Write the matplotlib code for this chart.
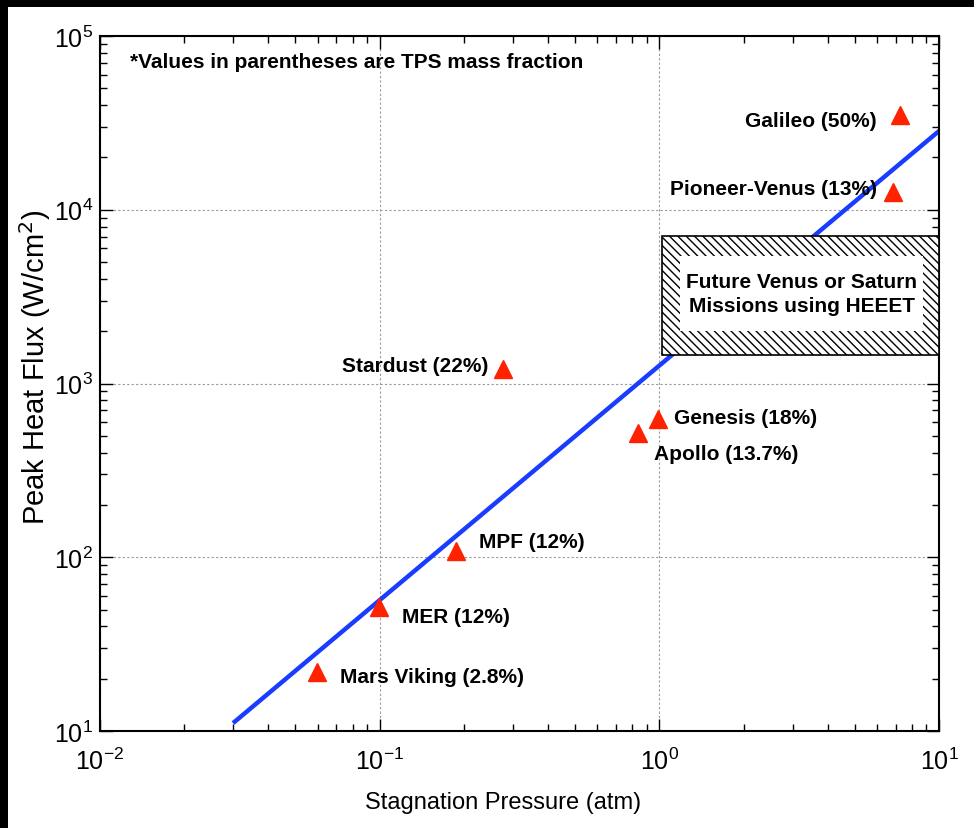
import matplotlib

matplotlib.use("Agg")
import matplotlib.pyplot as plt
from matplotlib.patches import Rectangle

plt.rcParams["font.family"] = ["Liberation Sans", "DejaVu Sans"]

# mission data (stagnation pressure in atm, peak heat flux in W/cm^2)
missions = ["Galileo", "Pioneer-Venus", "Stardust", "Genesis", "Apollo",
            "MPF", "MER", "Mars Viking"]
tps_fraction = ["50%", "13%", "22%", "18%", "13.7%", "12%", "12%", "2.8%"]
pressure = [7.26, 6.84, 0.276, 0.99, 0.84, 0.1875, 0.0995, 0.0597]
heat_flux = [35100, 12650, 1212, 625, 519, 108.6, 51.7, 21.9]

# trend line end points
trend_p = [0.0299, 10.0]
trend_q = [11.1, 28400]

# HEEET region
heeet_p = [1.02, 10.0]
heeet_q = [1460, 7060]
heeet_inner_p = [1.185, 8.77]
heeet_inner_q = [2005, 5420]
heeet_text = "Future Venus or Saturn\nMissions using HEEET"

# label offsets in points and alignment
label_offsets = {
    "Galileo": (-16.6, -4.3, "right"),
    "Pioneer-Venus": (-11.5, 2.2, "right"),
    "Stardust": (-10.8, 2.2, "right"),
    "Genesis": (11.5, 0.7, "left"),
    "Apollo": (11.5, -15.0, "left"),
    "MPF": (16.6, 6.5, "left"),
    "MER": (16.6, -6.5, "left"),
    "Mars Viking": (16.6, -3.6, "left"),
}

W, H = 974, 829
fig = plt.figure(figsize=(W / 100, H / 100), dpi=100, facecolor="black")
fig.add_artist(Rectangle((8 / W, 0), 1, (H - 8) / H, transform=fig.transFigure,
                         facecolor="white", edgecolor="none", zorder=0))
ax = fig.add_axes([100 / W, (H - 732) / H, 839 / W, 695 / H])

ax.set_xscale("log")
ax.set_yscale("log")
ax.set_xlim(1e-2, 1e1)
ax.set_ylim(1e1, 1e5)

ax.grid(True, which="major", linestyle=(0, (2, 2)), color="#9a9a9a", linewidth=0.8)
ax.set_axisbelow(True)

ax.plot(trend_p, trend_q, color="#1a3cff", linewidth=3.2, zorder=2, solid_capstyle="butt")

plt.rcParams["hatch.linewidth"] = 1.0
ax.add_patch(Rectangle((heeet_p[0], heeet_q[0]), heeet_p[1] - heeet_p[0], heeet_q[1] - heeet_q[0],
                       facecolor="white", edgecolor="black", hatch="\\\\\\\\", linewidth=1.2, zorder=3))
ax.add_patch(Rectangle((heeet_inner_p[0], heeet_inner_q[0]), heeet_inner_p[1] - heeet_inner_p[0],
                       heeet_inner_q[1] - heeet_inner_q[0], facecolor="white", edgecolor="none", zorder=4))
ax.text((heeet_inner_p[0] * heeet_inner_p[1]) ** 0.5, (heeet_inner_q[0] * heeet_inner_q[1]) ** 0.5,
        heeet_text, ha="center", va="center", fontsize=15, fontweight="bold", linespacing=1.3, zorder=5)

ax.plot(pressure, heat_flux, linestyle="none", marker="^", markersize=13,
        color="#ff2200", markeredgecolor="#ff2200", zorder=6)

for name, frac, p, q in zip(missions, tps_fraction, pressure, heat_flux):
    dx, dy, ha = label_offsets[name]
    ax.annotate(f"{name} ({frac})", (p, q), xytext=(dx, dy), textcoords="offset points",
                ha=ha, va="center", fontsize=15, fontweight="bold", zorder=7)

ax.text(0.0358, 0.964, "*Values in parentheses are TPS mass fraction", transform=ax.transAxes,
        ha="left", va="center", fontsize=15, fontweight="bold")

ax.tick_params(which="both", direction="in", top=True, right=True, width=1.0)
ax.tick_params(which="major", length=9, labelsize=18)
ax.tick_params(which="minor", length=5)
ax.tick_params(axis="x", which="major", pad=12)
ax.tick_params(axis="y", which="major", pad=5)
for s in ax.spines.values():
    s.set_linewidth(1.5)

ax.set_xlabel("Stagnation Pressure (atm)", fontsize=17)
ax.set_ylabel("Peak Heat Flux (W/cm$^2$)", fontsize=21)
ax.xaxis.set_label_coords(0.480, -0.086)
ax.yaxis.set_label_coords(-0.056, 0.525)

fig.savefig("out.png", dpi=100, facecolor=fig.get_facecolor())
